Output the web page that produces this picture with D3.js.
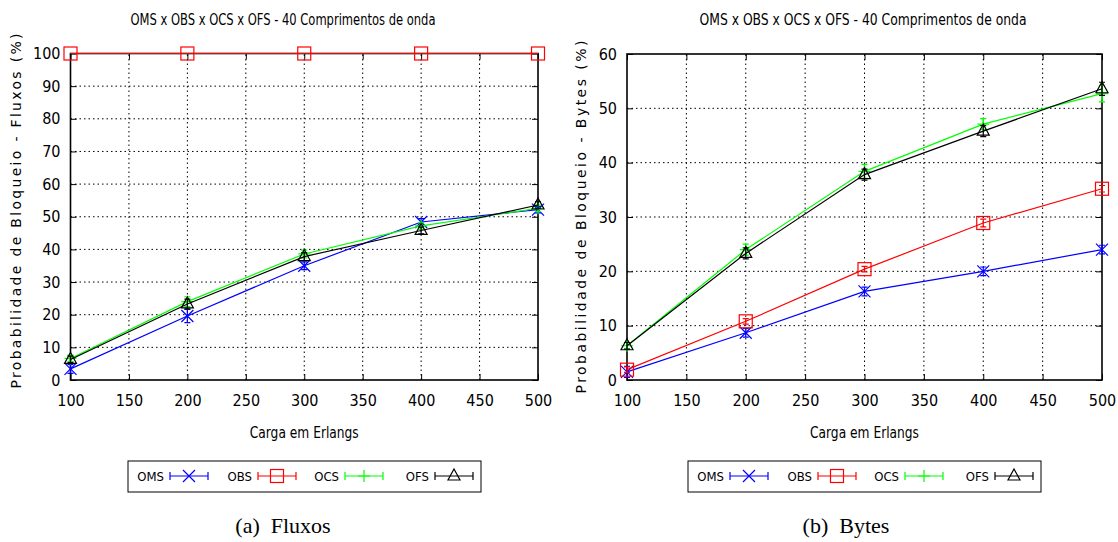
<!DOCTYPE html>
<html>
<head>
<meta charset="utf-8">
<script src="https://cdn.jsdelivr.net/npm/d3@7"></script>
<style>
  body { margin: 0; background: #fff; }
  svg text { font-family: "DejaVu Sans Condensed", "DejaVu Sans", sans-serif; }
</style>
</head>
<body>
<div id="container"></div>
<script>
const loads = [100, 200, 300, 400, 500];
const seriesNames = ["OMS", "OBS", "OCS", "OFS"];
const seriesColors = ["#0000ff", "#ff0000", "#00ff00", "#000000"];

// (a) Fluxos
const fluxosOMS = [3.4, 19.6, 35.0, 48.4, 52.2];
const fluxosOBS = [100, 100, 100, 100, 100];
const fluxosOCS = [6.6, 24.0, 38.6, 47.2, 52.6];
const fluxosOFS = [6.3, 23.3, 37.8, 45.8, 53.6];
const fluxosErr = [[1.4, 2.0, 1.2, 1.0, 1.0], [0, 0, 0, 0, 0], [1.0, 1.5, 1.2, 1.0, 1.0], [1.0, 1.5, 1.2, 1.0, 1.0]];

// (b) Bytes
const bytesOMS = [1.5, 8.7, 16.3, 20.0, 24.0];
const bytesOBS = [1.9, 10.8, 20.4, 28.9, 35.2];
const bytesOCS = [6.3, 24.0, 38.4, 47.1, 52.7];
const bytesOFS = [6.3, 23.3, 37.8, 45.8, 53.6];
const bytesErr = [[1.0, 0.8, 0.8, 0.8, 0.8], [0.5, 0.5, 0.5, 0.7, 0.6], [0.6, 1.0, 1.3, 1.0, 1.5], [0.6, 1.0, 1.0, 1.0, 1.2]];

const xTicks = [100, 150, 200, 250, 300, 350, 400, 450, 500];
const titleText = "OMS x OBS x OCS x OFS - 40 Comprimentos de onda";
const xLabelText = "Carga em Erlangs";

const svg = d3.select("#container").append("svg")
  .attr("width", 1118).attr("height", 542);

function marker(g, type, color) {
  if (type === 0) {
    g.append("path").attr("d", "M-6,-6L6,6M-6,6L6,-6").attr("stroke", color).attr("stroke-width", 1.2).attr("fill", "none");
  } else if (type === 1) {
    g.append("rect").attr("x", -6.5).attr("y", -6.5).attr("width", 13).attr("height", 13)
      .attr("stroke", color).attr("stroke-width", 1.2).attr("fill", "none");
  } else if (type === 2) {
    g.append("path").attr("d", "M-6,0L6,0M0,-6L0,6").attr("stroke", color).attr("stroke-width", 1.2).attr("fill", "none");
  } else {
    g.append("path").attr("d", "M0,-7L6,4L-6,4Z").attr("stroke", color).attr("stroke-width", 1.2).attr("fill", "none");
  }
}

function drawPanel(cfg) {
  const g = svg.append("g");
  const x = d3.scaleLinear().domain([100, 500]).range([cfg.x0, cfg.x1]);
  const y = d3.scaleLinear().domain([0, cfg.yMax]).range([380, cfg.yTop]);

  // grid
  g.append("g").selectAll("line").data(xTicks.slice(1, -1)).join("line")
    .attr("x1", d => x(d)).attr("x2", d => x(d)).attr("y1", y(0)).attr("y2", y(cfg.yMax))
    .attr("stroke", "#000").attr("stroke-width", 1).attr("stroke-dasharray", "1.5,3");
  g.append("g").selectAll("line").data(cfg.yTicks.slice(1, -1)).join("line")
    .attr("x1", x(100)).attr("x2", x(500)).attr("y1", d => y(d)).attr("y2", d => y(d))
    .attr("stroke", "#000").attr("stroke-width", 1).attr("stroke-dasharray", "1.5,3");

  // axes
  const bottom = g.append("g").attr("transform", `translate(0,${y(0)})`)
    .call(d3.axisBottom(x).tickValues(xTicks).tickSize(-6).tickPadding(14).tickFormat(d3.format("d")));
  const top = g.append("g").attr("transform", `translate(0,${y(cfg.yMax)})`)
    .call(d3.axisTop(x).tickValues(xTicks).tickSize(-6).tickFormat(""));
  const left = g.append("g").attr("transform", `translate(${x(100)},0)`)
    .call(d3.axisLeft(y).tickValues(cfg.yTicks).tickSize(-6).tickPadding(10));
  const right = g.append("g").attr("transform", `translate(${x(500)},0)`)
    .call(d3.axisRight(y).tickValues(cfg.yTicks).tickSize(-6).tickFormat(""));
  [bottom, top, left, right].forEach(a => {
    a.select(".domain").remove();
    a.selectAll("line").attr("stroke", "#000");
    a.selectAll("text").attr("font-size", 16).attr("fill", "#000")
      .style("font-family", "'DejaVu Sans Condensed', 'DejaVu Sans', sans-serif");
  });
  bottom.selectAll("text").attr("dy", "0.35em").attr("y", 20);
  g.append("rect").attr("x", x(100)).attr("y", y(cfg.yMax))
    .attr("width", x(500) - x(100)).attr("height", y(0) - y(cfg.yMax))
    .attr("fill", "none").attr("stroke", "#000").attr("stroke-width", 1.6);

  // series
  cfg.series.forEach((vals, si) => {
    const color = seriesColors[si];
    const pts = loads.map((l, i) => ({ x: l, y: vals[i], e: cfg.err[si][i] }));
    g.append("path").datum(pts)
      .attr("d", d3.line().x(d => x(d.x)).y(d => y(d.y)))
      .attr("fill", "none").attr("stroke", color).attr("stroke-width", 1.2);
    pts.forEach(p => {
      if (p.e > 0) {
        const px = x(p.x);
        g.append("path")
          .attr("d", `M${px},${y(p.y - p.e)}L${px},${y(p.y + p.e)}M${px - 3},${y(p.y - p.e)}L${px + 3},${y(p.y - p.e)}M${px - 3},${y(p.y + p.e)}L${px + 3},${y(p.y + p.e)}`)
          .attr("stroke", color).attr("stroke-width", 1.2).attr("fill", "none");
      }
      const mg = g.append("g").attr("transform", `translate(${x(p.x)},${y(p.y)})`);
      marker(mg, si, color);
    });
  });

  // texts
  g.append("text").attr("x", cfg.titleX).attr("y", 25).attr("text-anchor", "middle")
    .attr("font-size", 16).attr("textLength", cfg.titleLen).attr("lengthAdjust", "spacingAndGlyphs")
    .text(titleText);
  g.append("text").attr("transform", `translate(${cfg.yLabelX},${cfg.yLabelY}) rotate(-90)`)
    .attr("text-anchor", "middle").attr("font-size", 14)
    .style("font-family", "'DejaVu Sans', sans-serif")
    .attr("textLength", cfg.yLabelLen).attr("lengthAdjust", "spacing")
    .text(cfg.yLabel);
  g.append("text").attr("x", (cfg.x0 + cfg.x1) / 2).attr("y", 438).attr("text-anchor", "middle")
    .attr("font-size", 16).attr("textLength", 109).attr("lengthAdjust", "spacingAndGlyphs")
    .text(xLabelText);

  // legend
  const lg = g.append("g").attr("transform", `translate(${cfg.legX},461)`);
  lg.append("rect").attr("width", 353).attr("height", 31).attr("fill", "none")
    .attr("stroke", "#000").attr("stroke-width", 1);
  const itemX = [36, 124, 211, 301];
  seriesNames.forEach((name, si) => {
    const color = seriesColors[si];
    lg.append("text").attr("x", itemX[si]).attr("y", 20).attr("text-anchor", "end")
      .attr("font-size", 13).text(name);
    const sx0 = itemX[si] + 6, sx1 = itemX[si] + 44, cy = 15;
    lg.append("path").attr("d", `M${sx0},${cy}L${sx1},${cy}M${sx0},${cy - 4}L${sx0},${cy + 4}M${sx1},${cy - 4}L${sx1},${cy + 4}`)
      .attr("stroke", color).attr("stroke-width", 1.2).attr("fill", "none");
    const mg = lg.append("g").attr("transform", `translate(${(sx0 + sx1) / 2},${cy})`);
    marker(mg, si, color);
  });

  // caption
  g.append("text").attr("x", cfg.capX).attr("y", 533).attr("text-anchor", "middle")
    .attr("font-size", 22).style("font-family", "'Liberation Serif', 'Times New Roman', serif")
    .text(cfg.caption);
}

drawPanel({
  x0: 70.5, x1: 538, yTop: 53.5, yMax: 100,
  yTicks: d3.range(0, 101, 10),
  series: [fluxosOMS, fluxosOBS, fluxosOCS, fluxosOFS], err: fluxosErr,
  titleX: 283, titleLen: 305, yLabel: "Probabilidade de Bloqueio - Fluxos (%)", yLabelX: 21, yLabelY: 211, yLabelLen: 355,
  legX: 128, capX: 283, caption: "(a)\u00a0\u00a0Fluxos"
});
drawPanel({
  x0: 627, x1: 1102, yTop: 54, yMax: 60,
  yTicks: d3.range(0, 61, 10),
  series: [bytesOMS, bytesOBS, bytesOCS, bytesOFS], err: bytesErr,
  titleX: 863, titleLen: 327, yLabel: "Probabilidade de Bloqueio - Bytes (%)", yLabelX: 586, yLabelY: 217, yLabelLen: 353,
  legX: 688, capX: 846, caption: "(b)\u00a0\u00a0Bytes"
});
</script>
</body>
</html>
